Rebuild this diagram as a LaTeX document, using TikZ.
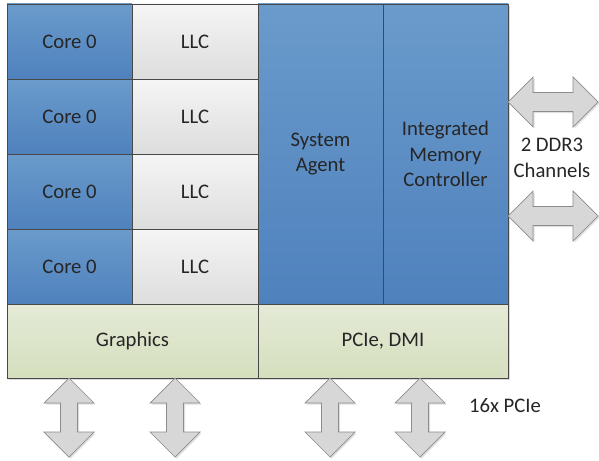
\documentclass[tikz,border=0pt]{standalone}
\usepackage{fontspec}
\setmainfont{Carlito}
\usetikzlibrary{shadows}

\definecolor{coretop}{RGB}{106,155,203}
\definecolor{corebot}{RGB}{79,129,189}
\definecolor{llctop}{RGB}{245,245,245}
\definecolor{llcbot}{RGB}{221,221,221}
\definecolor{iotop}{RGB}{228,234,214}
\definecolor{iobot}{RGB}{213,223,190}
\definecolor{edge}{RGB}{72,72,72}
\definecolor{arrfill}{RGB}{215,215,215}
\definecolor{arredge}{RGB}{140,140,140}

\tikzset{
	cell/.style={draw=edge, line width=0.8pt, inner sep=0pt, align=center,
		text=black!85, font=\fontsize{20.7}{25.3}\selectfont},
	corecell/.style={cell, top color=coretop, bottom color=corebot,
		minimum width=125pt, minimum height=75pt},
	llccell/.style={cell, top color=llctop, bottom color=llcbot,
		minimum width=126pt, minimum height=75pt},
	agentcell/.style={cell, top color=coretop, bottom color=corebot,
		minimum width=125pt, minimum height=300pt},
	iocell/.style={cell, top color=iotop, bottom color=iobot,
		minimum height=74pt},
	note/.style={align=center, text=black!85, font=\fontsize{20.7}{25.3}\selectfont},
	arrowbody/.style={fill=arrfill, draw=arredge, line width=0.7pt,
		drop shadow={opacity=0.25, shadow xshift=1.5pt, shadow yshift=-1.5pt}},
	% block arrows, vertical and horizontal
	varrow/.pic={\path[arrowbody] (0,0) -- (25,25) -- (8.5,25) -- (8.5,54)
		-- (25,54) -- (0,79) -- (-25,54) -- (-8.5,54) -- (-8.5,25) -- (-25,25) -- cycle;},
	harrow/.pic={\path[arrowbody] (0,0) -- (25,-25) -- (25,-9.5) -- (65,-9.5)
		-- (65,-25) -- (90,0) -- (65,25) -- (65,9.5) -- (25,9.5) -- (25,25) -- cycle;}
}

\begin{document}
\begin{tikzpicture}[x=1pt,y=-1pt]
	\useasboundingbox (0,0) rectangle (599,460);
	% die outline with its shadow
	\path[fill=white, drop shadow={opacity=0.3, shadow xshift=2pt, shadow yshift=-2pt}]
		(7,4) rectangle (508,378);

	% cores and their cache slices
	\foreach \i in {0,...,3} {
		\node[corecell] (core\i) at (69.5,41.5+75*\i) {Core 0};
		\node[llccell] (llc\i) at (195,41.5+75*\i) {LLC};
	}

	\node[agentcell] (agent) at (320.5,154) {System\\Agent};
	\node[agentcell] (imc) at (445.5,154) {Integrated\\Memory\\Controller};

	\node[iocell, minimum width=251pt] (gfx) at (132.5,341) {Graphics};
	\node[iocell, minimum width=250pt] (pcie) at (383,341) {PCIe, DMI};

	% memory channels
	\pic at (508,102) {harrow};
	\pic at (508,216) {harrow};
	\node[note] (ddr) at (552,158) {2 DDR3\\Channels};

	% expansion links
	\foreach \x in {69,175,330,420}
		\pic at (\x,378) {varrow};
	\node[note] (lanes) at (505,406) {16x PCIe};
\end{tikzpicture}
\end{document}
